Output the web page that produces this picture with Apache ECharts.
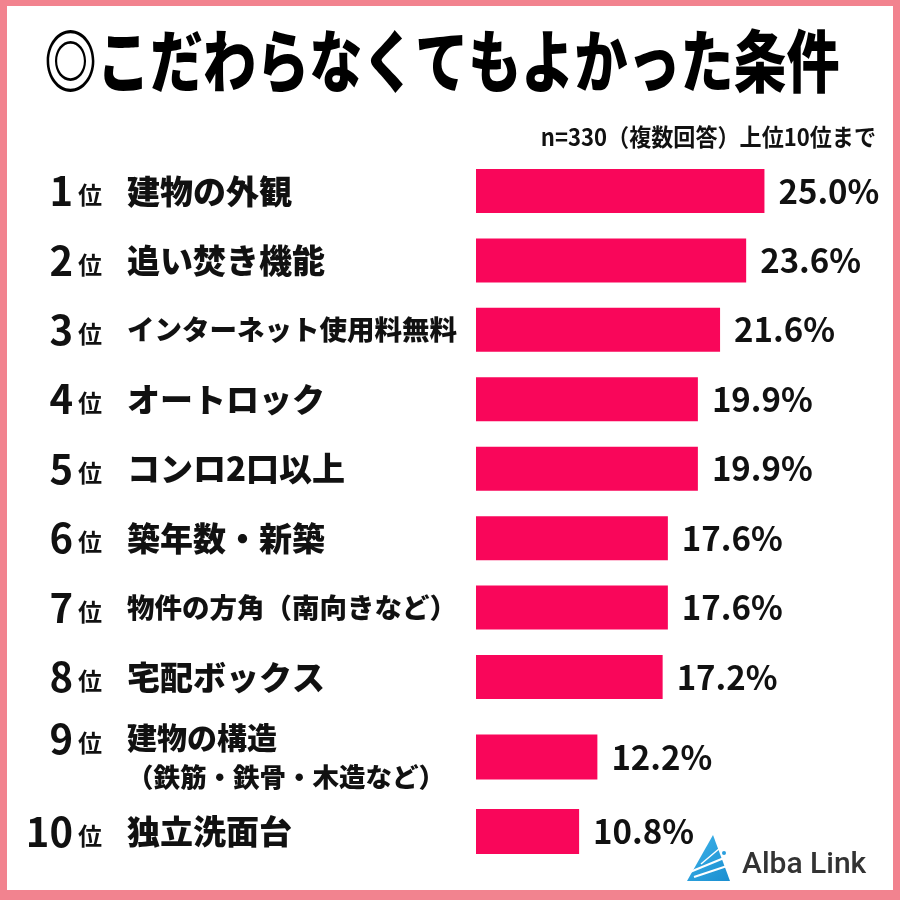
<!DOCTYPE html>
<html lang="ja">
<head>
<meta charset="utf-8">
<title>こだわらなくてもよかった条件</title>
<script src="https://cdn.jsdelivr.net/npm/echarts@6/dist/echarts.min.js"></script>
<style>
  html, body { margin: 0; padding: 0; background: #fff; }
  #chart { width: 900px; height: 900px; }
</style>
</head>
<body>
<div id="chart"></div>
<script>
// 順位・項目・割合(%)
const ranks = ['1', '2', '3', '4', '5', '6', '7', '8', '9', '10'];
const categories = [
  '建物の外観',
  '追い焚き機能',
  'インターネット使用料無料',
  'オートロック',
  'コンロ2口以上',
  '築年数・新築',
  '物件の方角（南向きなど）',
  '宅配ボックス',
  '建物の構造\n（鉄筋・鉄骨・木造など）',
  '独立洗面台'
];
const values = [25.0, 23.6, 21.6, 19.9, 19.9, 17.6, 17.6, 17.2, 12.2, 10.8];

const titleText = '◎こだわらなくてもよかった条件';
const noteText = 'n=330（複数回答）上位10位まで';
const brandText = 'Alba Link';

const JP = '"Noto Sans CJK JP", sans-serif';
const BAR_COLOR = '#F9065A';
const TEXT_COLOR = '#111';

// 9位は2行なので、1〜8位と9〜10位でグリッドを分けて行間を変える
const splitAt = 8;

const base = { fontFamily: JP, fontWeight: 'bold', color: TEXT_COLOR };

// 順位ラベル（右寄せ）
function rankText(name) {
  const i = categories.indexOf(name);
  const r = '{num|' + ranks[i] + '}{pos|位}';
  // 2行の項目は1行目の高さに合わせる
  return name.indexOf('\n') >= 0 ? r + '\n{gap| }' : r;
}
const rankRich = {
  num: Object.assign({}, base, { fontSize: 40, lineHeight: 42 }),
  pos: Object.assign({}, base, { fontSize: 24, lineHeight: 42, padding: [8, 0, 0, 5] }),
  gap: { fontSize: 10, lineHeight: 36 }
};

// 項目名ラベル（左寄せ）
function nameText(name) {
  if (name.indexOf('\n') >= 0) {
    const lines = name.split('\n');
    return '{twoA|' + lines[0] + '}\n{twoB|' + lines[1] + '}';
  }
  return (name.length > 10 ? '{small|' : '{name|') + name + '}';
}
const nameRich = {
  name: Object.assign({}, base, { fontSize: 33, fontWeight: 900, lineHeight: 42 }),
  small: Object.assign({}, base, { fontSize: 27.5, fontWeight: 900, lineHeight: 42 }),
  twoA: Object.assign({}, base, { fontSize: 30, fontWeight: 900, lineHeight: 40 }),
  twoB: Object.assign({}, base, { fontSize: 26.5, fontWeight: 900, lineHeight: 38 })
};

function makeY(gridIndex, cats, align, margin, formatter, rich) {
  return {
    type: 'category',
    gridIndex: gridIndex,
    position: 'left',
    data: cats,
    inverse: true,
    axisLine: { show: false },
    axisTick: { show: false },
    splitLine: { show: false },
    axisLabel: {
      interval: 0,
      align: align,
      margin: margin,
      formatter: formatter,
      rich: rich
    }
  };
}

function makeX(gridIndex) {
  return {
    type: 'value',
    gridIndex: gridIndex,
    min: 2.9,
    max: 30,
    show: false
  };
}

function makeBar(index, data, barWidth) {
  return {
    type: 'bar',
    xAxisIndex: index,
    yAxisIndex: index,
    data: data,
    barWidth: barWidth,
    clip: true,
    itemStyle: { color: BAR_COLOR },
    label: {
      show: true,
      position: 'right',
      distance: 14,
      fontFamily: JP,
      fontSize: 33,
      fontWeight: 'bold',
      color: TEXT_COLOR,
      formatter: function (p) { return p.value.toFixed(1) + '%'; }
    }
  };
}

const topCats = categories.slice(0, splitAt);
const lowCats = categories.slice(splitAt);

const chart = echarts.init(document.getElementById('chart'));

const option = {
  backgroundColor: '#F2838F',
  animation: false,
  grid: [
    { left: 476, width: 353.7, top: 156.3, height: 555.4, containLabel: false, outerBoundsMode: 'none' },
    { left: 476, width: 353.7, top: 719.8, height: 149, containLabel: false, outerBoundsMode: 'none' }
  ],
  xAxis: [makeX(0), makeX(1)],
  yAxis: [
    makeY(0, topCats, 'left', 349, nameText, nameRich),
    makeY(1, lowCats, 'left', 349, nameText, nameRich),
    makeY(0, topCats, 'right', 374, rankText, rankRich),
    makeY(1, lowCats, 'right', 374, rankText, rankRich)
  ],
  series: [
    makeBar(0, values.slice(0, splitAt), 44),
    makeBar(1, values.slice(splitAt), 45)
  ],
  graphic: [
    // 白い台紙
    {
      type: 'rect',
      z: 0,
      silent: true,
      shape: { x: 7, y: 6, width: 886, height: 884 },
      style: { fill: '#fff' }
    },
    // タイトル
    {
      type: 'text',
      z: 10,
      x: 44,
      y: 61,
      scaleX: 0.78,
      style: {
        text: titleText,
        fontFamily: JP,
        fontSize: 68,
        fontWeight: 900,
        fill: '#000',
        textAlign: 'left',
        textVerticalAlign: 'middle'
      }
    },
    // 注記
    {
      type: 'text',
      z: 10,
      x: 876,
      y: 137,
      scaleX: 0.92,
      style: {
        text: noteText,
        fontFamily: JP,
        fontSize: 24,
        fontWeight: 'bold',
        fill: TEXT_COLOR,
        textAlign: 'right',
        textVerticalAlign: 'middle'
      }
    },
    // ロゴ
    {
      type: 'polygon',
      z: 10,
      silent: true,
      shape: { points: [[713, 835], [730, 881], [687, 881]] },
      style: {
        fill: new echarts.graphic.LinearGradient(0, 0, 1, 1, [
          { offset: 0, color: '#3FB4EA' },
          { offset: 1, color: '#1A8ED0' }
        ])
      }
    },
    {
      type: 'polyline',
      z: 11,
      silent: true,
      shape: { points: [[690, 872], [724, 858]] },
      style: { stroke: '#fff', lineWidth: 2 }
    },
    {
      type: 'polyline',
      z: 11,
      silent: true,
      shape: { points: [[694, 877], [727, 866]] },
      style: { stroke: '#fff', lineWidth: 2 }
    },
    {
      type: 'polyline',
      z: 11,
      silent: true,
      shape: { points: [[701, 864], [720, 848]] },
      style: { stroke: '#fff', lineWidth: 1.5 }
    },
    {
      type: 'circle',
      z: 11,
      silent: true,
      shape: { cx: 724, cy: 853, r: 2 },
      style: { fill: '#2A9FDE' }
    },
    {
      type: 'text',
      z: 10,
      x: 742,
      y: 865,
      style: {
        text: brandText,
        fontFamily: 'Roboto, sans-serif',
        fontSize: 30,
        fontWeight: 500,
        fill: '#333',
        textAlign: 'left',
        textVerticalAlign: 'middle'
      }
    }
  ]
};

chart.setOption(option);

window.addEventListener('resize', function () {
  chart.resize();
});
</script>
</body>
</html>
